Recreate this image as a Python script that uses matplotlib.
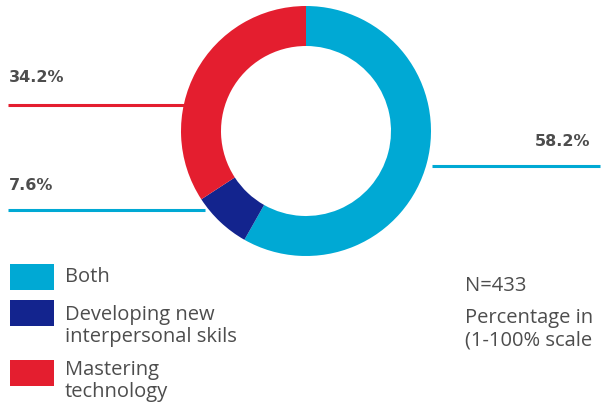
import matplotlib.pyplot as plt
from matplotlib.patches import Rectangle

# shares of respondents (%)
labels = ['Both', 'Developing new\ninterpersonal skils', 'Mastering\ntechnology']
values = [58.2, 7.6, 34.2]
colors = ['#00A9D4', '#13248E', '#E41E2F']
value_text = ['58.2%', '7.6%', '34.2%']
note_lines = ['N=433', 'Percentage in\n(1-100% scale']

W, H = 609, 405
fig = plt.figure(figsize=(W / 100, H / 100), dpi=100)
ax = fig.add_axes([0, 0, 1, 1])

cx, cy, r = 306, H - 131, 125
ax.pie(values, colors=colors, startangle=90, counterclock=False,
       center=(cx, cy), radius=r, frame=True,
       wedgeprops=dict(width=r * 0.32, linewidth=0))
ax.set_xlim(0, W)
ax.set_ylim(0, H)
ax.axis('off')

txt = '#4d4d4d'
pct_font = dict(fontsize=11.5, fontweight='bold', color=txt, family='DejaVu Sans')

# leader lines with the value labels
ax.plot([432, 600], [H - 166, H - 166], color=colors[0], lw=2.2, solid_capstyle='butt')
ax.text(590, H - 141, value_text[0], ha='right', va='center', **pct_font)
ax.plot([8, 205], [H - 210, H - 210], color=colors[0], lw=2.2, solid_capstyle='butt')
ax.text(9, H - 185, value_text[1], ha='left', va='center', **pct_font)
ax.plot([8, 184], [H - 105, H - 105], color=colors[2], lw=2.2, solid_capstyle='butt')
ax.text(9, H - 78, value_text[2], ha='left', va='center', **pct_font)

# legend
box_tops = [264, 300, 360]
text_mid = [277, 326, 381]
for lab, col, bt, tm in zip(labels, colors, box_tops, text_mid):
    ax.add_patch(Rectangle((10, H - bt - 26), 44, 26, color=col, lw=0))
    ax.text(65, H - tm, lab, ha='left', va='center', fontsize=14.5,
            color=txt, family='Open Sans', linespacing=1.15)

ax.text(465, H - 286, note_lines[0], ha='left', va='center', fontsize=14.5,
        color=txt, family='Open Sans')
ax.text(465, H - 329, note_lines[1], ha='left', va='center', fontsize=14.5,
        color=txt, family='Open Sans', linespacing=1.2)

fig.savefig('out.png', dpi=100)
